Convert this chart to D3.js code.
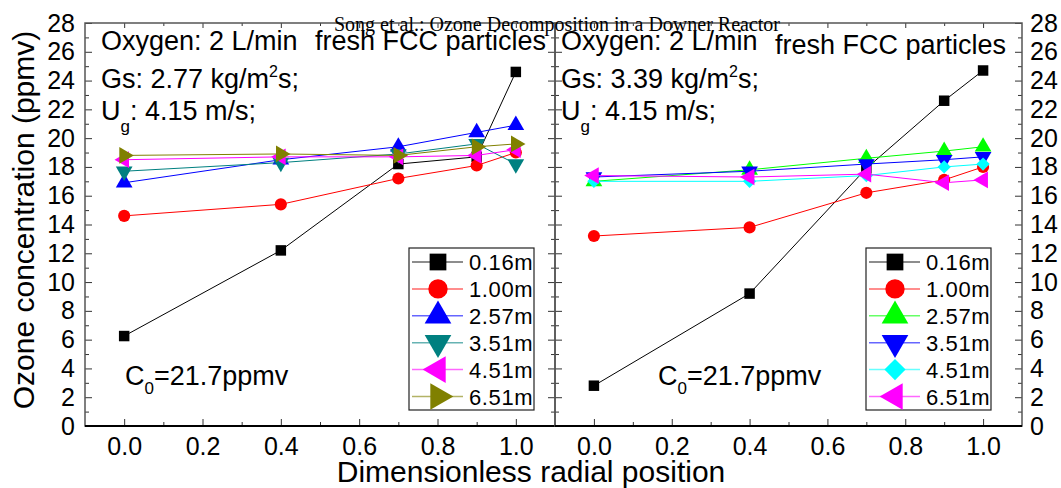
<!DOCTYPE html>
<html>
<head>
<meta charset="utf-8">
<script src="https://cdn.jsdelivr.net/npm/d3@7/dist/d3.min.js"></script>
<style>
  body { margin: 0; background: #fff; }
  svg { display: block; font-family: Arial, "Liberation Sans", sans-serif; }
</style>
</head>
<body>
<div id="chart"></div>
<script>
// radial positions measured in both panels
var positions = [0, 0.4, 0.7, 0.9, 1.0];
var heights = ['0.16m', '1.00m', '2.57m', '3.51m', '4.51m', '6.51m'];

// Gs = 2.77 kg/m2s
var leftValues = [
  [6.25, 12.2, 18.2, 18.7, 24.6],
  [14.6, 15.4, 17.2, 18.1, 19.0],
  [16.9, 18.5, 19.4, 20.4, 20.9],
  [17.7, 18.3, 18.9, 19.6, 18.2],
  [18.5, 18.7, 18.7, 18.8, 19.2],
  [18.8, 18.9, 18.8, 19.4, 19.6]
];
// Gs = 3.39 kg/m2s
var rightValues = [
  [2.8, 9.2, 17.9, 22.6, 24.7],
  [13.2, 13.8, 16.2, 17.1, 18.0],
  [17.0, 17.8, 18.6, 19.1, 19.4],
  [17.3, 17.7, 18.2, 18.5, 18.7],
  [17.0, 17.0, 17.4, 18.0, 18.2],
  [17.4, 17.3, 17.5, 16.9, 17.1]
];

var leftColors = ['#000000', '#ff0000', '#0000ff', '#008080', '#ff00ff', '#808000'];
var rightColors = ['#000000', '#ff0000', '#00ff00', '#0000ff', '#00ffff', '#ff00ff'];
var leftShapes = ['square', 'circle', 'up', 'down', 'left', 'right'];
var rightShapes = ['square', 'circle', 'up', 'down', 'diamond', 'left'];

var xMajor = [0, 0.2, 0.4, 0.6, 0.8, 1.0];
var xMinor = [0.1, 0.3, 0.5, 0.7, 0.9];
var yMajor = d3.range(0, 29, 2);
var yMinor = d3.range(1, 28, 2);

(function(d3) {
  'use strict';

  var W = 1061, H = 488;
  var top = 23, bottom = 426;
  var frame = '#555';

  var svg = d3.select('#chart').append('svg')
    .attr('width', W).attr('height', H);

  var y = d3.scaleLinear().domain([0, 28]).range([bottom, top]);

  var shapeFor = function(name, size) {
    var type = d3.symbolTriangle, rot = 0;
    if (name === 'square') type = d3.symbolSquare;
    if (name === 'circle') type = d3.symbolCircle;
    if (name === 'diamond') { type = d3.symbolSquare; rot = 45; }
    if (name === 'down') rot = 180;
    if (name === 'left') rot = -90;
    if (name === 'right') rot = 90;
    var sz = size;
    if (name === 'circle') sz = size * 1.05;
    if (name === 'up' || name === 'down' || name === 'left' || name === 'right') sz = size * 1.1;
    if (name === 'diamond') sz = size * 0.8;
    return { path: d3.symbol().type(type).size(sz)(), rot: rot };
  };

  var drawPanel = function(p) {
    var x = d3.scaleLinear().domain([-0.1, 1.1]).range([p.x0, p.x1]);
    var g = svg.append('g');

    // bottom ticks + labels
    g.append('g')
      .attr('transform', 'translate(0,' + bottom + ')')
      .call(d3.axisBottom(x).tickValues(xMajor).tickSize(-7).tickPadding(11).tickFormat(d3.format('.1f')))
      .call(function(a) { a.select('.domain').remove(); });
    g.append('g')
      .attr('transform', 'translate(0,' + bottom + ')')
      .call(d3.axisBottom(x).tickValues(xMinor).tickSize(-4).tickFormat(''))
      .call(function(a) { a.select('.domain').remove(); });
    // top ticks
    g.append('g')
      .attr('transform', 'translate(0,' + top + ')')
      .call(d3.axisTop(x).tickValues(xMajor).tickSize(-5).tickFormat(''))
      .call(function(a) { a.select('.domain').remove(); });
    g.append('g')
      .attr('transform', 'translate(0,' + top + ')')
      .call(d3.axisTop(x).tickValues(xMinor).tickSize(-3).tickFormat(''))
      .call(function(a) { a.select('.domain').remove(); });

    // left side ticks
    var leftAx = d3.axisLeft(y).tickValues(yMajor).tickSize(-7).tickPadding(10);
    if (!p.labelLeft) leftAx.tickFormat('');
    g.append('g')
      .attr('transform', 'translate(' + p.x0 + ',0)')
      .call(leftAx)
      .call(function(a) { a.select('.domain').remove(); });
    g.append('g')
      .attr('transform', 'translate(' + p.x0 + ',0)')
      .call(d3.axisLeft(y).tickValues(yMinor).tickSize(-4).tickFormat(''))
      .call(function(a) { a.select('.domain').remove(); });

    // right side ticks
    var rightAx = d3.axisRight(y).tickValues(yMajor).tickSize(-7).tickPadding(8);
    if (!p.labelRight) rightAx.tickFormat('');
    g.append('g')
      .attr('transform', 'translate(' + p.x1 + ',0)')
      .call(rightAx)
      .call(function(a) { a.select('.domain').remove(); });
    g.append('g')
      .attr('transform', 'translate(' + p.x1 + ',0)')
      .call(d3.axisRight(y).tickValues(yMinor).tickSize(-4).tickFormat(''))
      .call(function(a) { a.select('.domain').remove(); });

    g.selectAll('.tick line').attr('stroke', '#333');
    g.selectAll('.tick text')
      .attr('font-family', 'Arial, "Liberation Sans", sans-serif')
      .attr('font-size', 25).attr('fill', '#000');

    // frame
    g.append('rect')
      .attr('x', p.x0).attr('y', top)
      .attr('width', p.x1 - p.x0).attr('height', bottom - top)
      .attr('fill', 'none').attr('stroke', frame).attr('stroke-width', 1.5);
    g.append('line')
      .attr('x1', p.x0).attr('x2', p.x1).attr('y1', bottom).attr('y2', bottom)
      .attr('stroke', '#000').attr('stroke-width', 2);

    // series
    var line = d3.line()
      .x(function(d, i) { return x(positions[i]); })
      .y(function(d) { return y(d); });

    p.values.forEach(function(vals, k) {
      g.append('path')
        .datum(vals)
        .attr('d', line)
        .attr('fill', 'none')
        .attr('stroke', p.colors[k])
        .attr('stroke-width', 1);
      var s = shapeFor(p.shapes[k], 110);
      g.selectAll('.m' + k)
        .data(vals)
        .enter().append('path')
        .attr('class', 'm' + k)
        .attr('d', s.path)
        .attr('transform', function(d, i) {
          return 'translate(' + x(positions[i]) + ',' + y(d) + ') rotate(' + s.rot + ')';
        })
        .attr('fill', p.colors[k]);
    });

    // legend
    var lg = g.append('g');
    lg.append('rect')
      .attr('x', p.legX).attr('y', 248)
      .attr('width', 125).attr('height', 162)
      .attr('fill', '#fff').attr('stroke', '#222').attr('stroke-width', 1.2);
    heights.forEach(function(h, k) {
      var ry = 262 + k * 26.9;
      lg.append('line')
        .attr('x1', p.legX + 3).attr('x2', p.legX + 54)
        .attr('y1', ry).attr('y2', ry)
        .attr('stroke', p.colors[k]).attr('stroke-opacity', 0.6).attr('stroke-width', 1.5);
      var s = shapeFor(p.shapes[k], 280);
      lg.append('path')
        .attr('d', s.path)
        .attr('transform', 'translate(' + (p.legX + 29) + ',' + ry + ') rotate(' + s.rot + ')')
        .attr('fill', p.colors[k]);
      lg.append('text')
        .attr('x', p.legX + 60).attr('y', ry + 8)
        .attr('font-size', 22)
        .attr('letter-spacing', 0.6)
        .text(h);
    });

    // annotations
    var ax = p.x0 + p.annDx;
    var ann = g.append('g').attr('font-size', 27).attr('fill', '#000');
    ann.append('text').attr('x', ax).attr('y', 50).text('Oxygen: 2 L/min');
    ann.append('text').attr('x', p.freshX).attr('y', p.freshY).text('fresh FCC particles');
    var gs = ann.append('text').attr('x', ax).attr('y', 88);
    gs.append('tspan').text('Gs: ' + p.gs + ' kg/m');
    gs.append('tspan').attr('font-size', 16).attr('dy', -11).text('2');
    gs.append('tspan').attr('dy', 11).text('s;');
    var ug = ann.append('text').attr('x', ax).attr('y', 120);
    ug.append('tspan').text('U');
    ug.append('tspan').attr('font-size', 17).attr('dy', 12).text('g');
    ug.append('tspan').attr('dy', -12).text(': 4.15 m/s;');
    var c0 = ann.append('text').attr('x', p.c0X).attr('y', 385);
    c0.append('tspan').text('C');
    c0.append('tspan').attr('font-size', 17).attr('dy', 9).text('0');
    c0.append('tspan').attr('dy', -9).text('=21.7ppmv');
  };

  drawPanel({
    x0: 85, x1: 555, values: leftValues, colors: leftColors, shapes: leftShapes,
    labelLeft: true, labelRight: false, legX: 409, gs: '2.77', annDx: 16,
    freshX: 315, freshY: 50, c0X: 125
  });
  drawPanel({
    x0: 555, x1: 1022, values: rightValues, colors: rightColors, shapes: rightShapes,
    labelLeft: false, labelRight: true, legX: 866, gs: '3.39', annDx: 6,
    freshX: 775, freshY: 54, c0X: 658
  });

  // axis titles
  svg.append('text')
    .attr('transform', 'translate(34,220) rotate(-90)')
    .attr('text-anchor', 'middle')
    .attr('font-size', 30)
    .text('Ozone concentration (ppmv)');
  svg.append('text')
    .attr('x', 531).attr('y', 482)
    .attr('text-anchor', 'middle')
    .attr('font-size', 30)
    .text('Dimensionless radial position');

  // page running head printed over the figure
  svg.append('text')
    .attr('x', 557).attr('y', 31)
    .attr('text-anchor', 'middle')
    .attr('font-family', '"Liberation Serif", "Times New Roman", serif')
    .attr('font-size', 20)
    .text('Song et al.: Ozone Decomposition in a Downer Reactor');

})(window.d3);
</script>
</body>
</html>
